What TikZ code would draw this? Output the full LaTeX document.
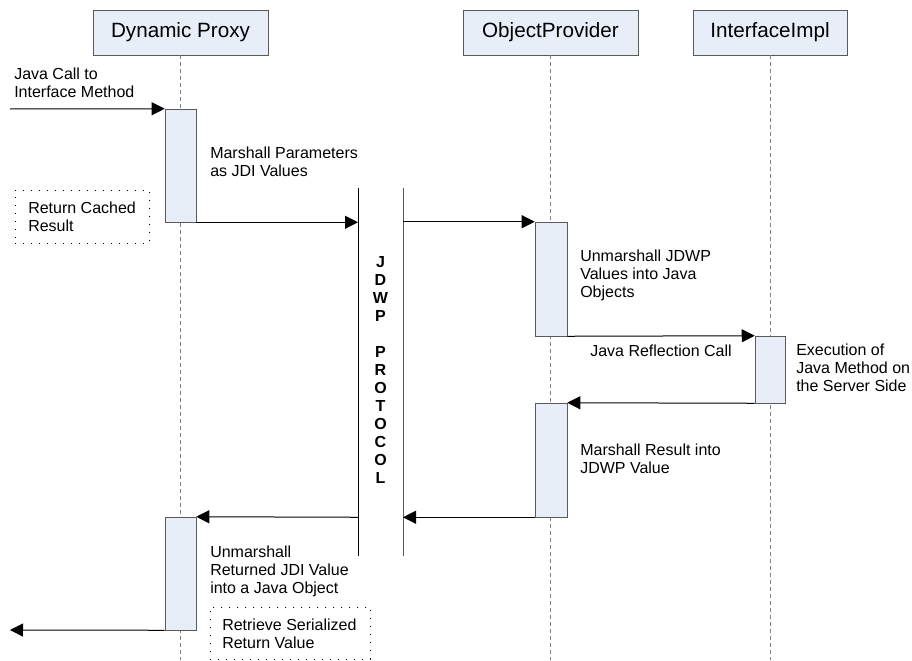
\documentclass[tikz,border=0pt]{standalone}
\usepackage{fontspec}
\setmainfont{Liberation Sans}
\usetikzlibrary{arrows.meta,fit}
\definecolor{boxblue}{HTML}{E8EEF8}
\definecolor{boxline}{HTML}{5A5A5A}

\tikzset{
  head/.style={draw=boxline, fill=boxblue, minimum height=33.75pt, inner sep=0pt, font=\fontsize{15.5}{18}\selectfont},
  act/.style={draw=boxline, fill=boxblue, inner sep=0pt},
  life/.style={draw=gray, dash pattern=on 3pt off 2.25pt, line width=0.6pt},
  msg/.style={-{Triangle[length=9.75pt,width=9.75pt]}, line width=0.75pt},
  txt/.style={anchor=west, align=left, inner sep=0pt, font=\fontsize{12}{13.5}\selectfont},
  note/.style={draw, dash pattern=on 0.75pt off 5.25pt, line width=0.75pt, inner sep=0pt},
  proto/.style={inner sep=0pt, font=\fontsize{12}{13.5}\selectfont\bfseries}
}

\begin{document}
\begin{tikzpicture}[x=0.75pt, y=-0.75pt]
    \useasboundingbox (0,0) rectangle (912,660);
    \coordinate (bottom) at (0,660);

    % heads and lifelines
    \node[head, minimum width=131.25pt] (dp) at (180.5,32.5) {Dynamic Proxy};
    \node[head, minimum width=131.25pt] (op) at (550.5,32.5) {ObjectProvider};
    \node[head, minimum width=115.5pt] (ii) at (770,32.5) {InterfaceImpl};
    \draw[life] (dp.south) -- (dp.south |- bottom);
    \draw[life] (op.south) -- (op.south |- bottom);
    \draw[life] (ii.south) -- (ii.south |- bottom);

    % activations
    \node[act, fit={(165,109) (196,222)}] (dp1) {};
    \node[act, fit={(535,222) (567,336)}] (op1) {};
    \node[act, fit={(755,336) (785,403)}] (ii1) {};
    \node[act, fit={(535,403) (567,517)}] (op2) {};
    \node[act, fit={(165,517) (196,630)}] (dp2) {};

    % protocol
    \coordinate (jl) at (358,188);
    \coordinate (jr) at (403,188);
    \draw[line width=0.75pt] (jl) -- (358,556);
    \draw[line width=0.75pt, draw=gray!70!black] (jr) -- (403,556);
    \foreach \ch [count=\i] in {J,D,W,P,{},P,R,O,T,O,C,O,L}
        \node[proto] (p\i) at (380.5,{244+18*\i}) {\ch};

    % messages
    \coordinate (start) at (10,109);
    \coordinate (end) at (10,630);
    \draw[msg] (start) -- (dp1.north west);
    \draw[msg] (dp1.south east) -- (jl |- dp1.south east);
    \draw[msg] (jr |- op1.north west) -- (op1.north west);
    \draw[msg] (op1.south east) -- (ii1.north west)
        node[midway, below=6pt, txt, anchor=north] (refl) {Java Reflection Call};
    \draw[msg] (ii1.south west) -- (op2.north east);
    \draw[msg] (op2.south west) -- (jr |- op2.south west);
    \draw[msg] (jl |- op2.south west) -- (dp2.north east);
    \draw[msg] (dp2.south west) -- (end);

    % notes
    \node[note, fit={(15,190) (149,243)}] (cache) {};
    \node[note, fit={(210,607) (370,659)}] (serial) {};

    % texts
    \node[txt] (t1) at (14,83) {Java Call to\\Interface Method};
    \node[txt] (t2) at (210,162) {Marshall Parameters\\as JDI Values};
    \node[txt] (t3) at (28,217) {Return Cached\\Result};
    \node[txt] (t4) at (580,275) {Unmarshall JDWP\\Values into Java\\Objects};
    \node[txt] (t5) at (796,368) {Execution of\\Java Method on\\the Server Side};
    \node[txt] (t6) at (580,459) {Marshall Result into\\JDWP Value};
    \node[txt] (t7) at (210,571) {Unmarshall\\Returned JDI Value\\into a Java Object};
    \node[txt] (t8) at (222,634) {Retrieve Serialized\\Return Value};
\end{tikzpicture}
\end{document}
